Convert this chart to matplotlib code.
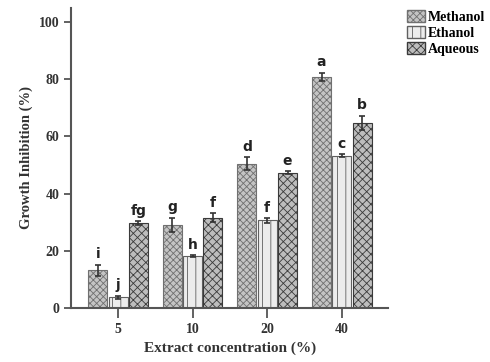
import numpy as np
import matplotlib
matplotlib.use("Agg")
import matplotlib.pyplot as plt
from matplotlib.patches import Patch

plt.rcParams['hatch.linewidth'] = 0.6

# data
concentrations = ['5', '10', '20', '40']
methanol = [13.2, 29.1, 50.4, 80.8]
ethanol = [3.7, 18.1, 30.6, 53.3]
aqueous = [29.8, 31.6, 47.3, 64.7]
methanol_err = [2.0, 2.5, 2.3, 1.5]
ethanol_err = [0.6, 0.3, 0.8, 0.5]
aqueous_err = [0.6, 1.5, 0.5, 2.5]
methanol_lbl = ['i', 'g', 'd', 'a']
ethanol_lbl = ['j', 'h', 'f', 'c']
aqueous_lbl = ['fg', 'f', 'e', 'b']

serif = 'Liberation Serif'
x = np.arange(len(concentrations))
w = 0.255
off = 0.272

fig = plt.figure(figsize=(4.9, 3.62), dpi=100)
ax = fig.add_axes([0.145, 0.149, 0.647, 0.83])

series = [
    (methanol, methanol_err, methanol_lbl, -off, '#c4c4c4', 'xxxxx', '#707070', 'Methanol'),
    (ethanol, ethanol_err, ethanol_lbl, 0, '#ececec', '||', '#606060', 'Ethanol'),
    (aqueous, aqueous_err, aqueous_lbl, off, '#bdbdbd', 'xxxx', '#3a3a3a', 'Aqueous'),
]
handles = []
for vals, errs, lbls, o, fc, h, ec, name in series:
    ax.bar(x + o, vals, w, color=fc, edgecolor=ec, hatch=h, linewidth=0.8,
           yerr=errs, error_kw=dict(ecolor='#333333', elinewidth=1.2, capsize=2.5, capthick=1.2))
    for xi, v, e, l in zip(x + o, vals, errs, lbls):
        ax.text(xi, v + e + 1.2, l, ha='center', va='bottom', fontsize=10,
                fontweight='bold', family='DejaVu Sans', color='#222222')
    handles.append(Patch(facecolor=fc, edgecolor=ec, hatch=h, label=name))

ax.set_xlim(-0.63, 3.62)
ax.set_ylim(0, 105)
ax.set_xticks(x)
ax.set_xticklabels(concentrations)
ax.set_yticks([0, 20, 40, 60, 80, 100])
for s in ['top', 'right']:
    ax.spines[s].set_visible(False)
for s in ['left', 'bottom']:
    ax.spines[s].set_linewidth(1.5)
    ax.spines[s].set_color('#555555')
ax.tick_params(axis='both', direction='out', width=1.3, color='#555555', length=5)
ax.tick_params(axis='x', length=7)
for t in ax.get_xticklabels() + ax.get_yticklabels():
    t.set_fontfamily(serif)
    t.set_fontweight('bold')
    t.set_fontsize(10)
    t.set_color('#333333')

ax.set_xlabel('Extract concentration (%)', fontsize=11, fontweight='bold', family=serif, color='#333333')
ax.set_ylabel('Growth Inhibition (%)', fontsize=10.5, fontweight='bold', family=serif, color='#333333')

fig.legend(handles=handles, loc='upper left', bbox_to_anchor=(0.81, 1.0), frameon=False,
           prop=dict(family=serif, weight='bold', size=10), handlelength=1.3, handleheight=1.0,
           handletextpad=0.2, labelspacing=0.15, borderaxespad=0.3)

fig.savefig('out.png', dpi=100)
